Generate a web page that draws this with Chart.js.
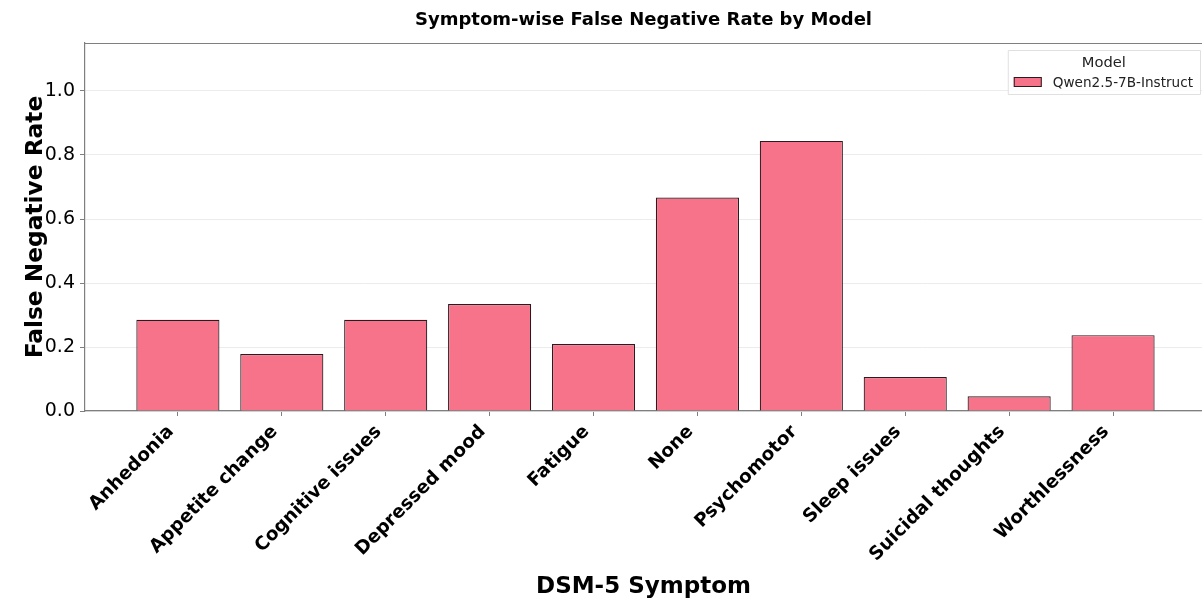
<!DOCTYPE html>
<html>
<head>
<meta charset="utf-8">
<script src="https://cdn.jsdelivr.net/npm/chart.js@4/dist/chart.umd.min.js"></script>
<style>
  html, body { margin: 0; padding: 0; background: #fff; }
  #wrap { width: 1202px; height: 599px; position: relative; }
</style>
</head>
<body>
<div id="wrap"><canvas id="chart"></canvas></div>
<script>
// Symptom-wise FNR, one model
const symptoms = ['Anhedonia', 'Appetite change', 'Cognitive issues', 'Depressed mood', 'Fatigue',
    'None', 'Psychomotor', 'Sleep issues', 'Suicidal thoughts', 'Worthlessness'];
const fnrQwen = [0.285, 0.178, 0.285, 0.334, 0.209, 0.667, 0.844, 0.106, 0.046, 0.237];
const modelName = 'Qwen2.5-7B-Instruct';
const yTicks = [0, 0.2, 0.4, 0.6, 0.8, 1.0];

const FONT = 'DejaVu Sans';
const AXIS_GREY = '#7f7f7f';

// draws the top spine and the matplotlib-style legend box
const extras = {
    id: 'extras',
    afterDraw(chart) {
        const { ctx, chartArea } = chart;
        ctx.save();
        ctx.strokeStyle = AXIS_GREY;
        ctx.lineWidth = 1.2;
        ctx.beginPath();
        ctx.moveTo(chartArea.left, chartArea.top + 0.5);
        ctx.lineTo(chartArea.right, chartArea.top + 0.5);
        ctx.stroke();

        const ds = chart.data.datasets[0];
        ctx.font = '13.6px "' + FONT + '"';
        const tw = ctx.measureText(ds.label).width;
        const w = 6 + 28 + 11 + tw + 7;
        const x0 = chartArea.right - 2 - w, y0 = chartArea.top + 7, h = 44;
        ctx.fillStyle = 'rgba(255,255,255,0.85)';
        ctx.strokeStyle = '#e0e0e0';
        ctx.lineWidth = 1;
        ctx.beginPath();
        ctx.rect(x0 + 0.5, y0 + 0.5, w, h);
        ctx.fill();
        ctx.stroke();

        ctx.fillStyle = '#222';
        ctx.font = '14.7px "' + FONT + '"';
        ctx.textAlign = 'center';
        ctx.textBaseline = 'middle';
        ctx.fillText('Model', x0 + w / 2, y0 + 13);

        ctx.fillStyle = ds.backgroundColor;
        ctx.strokeStyle = ds.borderColor;
        ctx.fillRect(x0 + 6, y0 + 27, 28, 10);
        ctx.strokeRect(x0 + 6.5, y0 + 27.5, 27, 9);

        ctx.fillStyle = '#222';
        ctx.font = '13.6px "' + FONT + '"';
        ctx.textAlign = 'left';
        ctx.fillText(ds.label, x0 + 45, y0 + 33);
        ctx.restore();
    }
};

new Chart(document.getElementById('chart'), {
    type: 'bar',
    data: {
        datasets: [{
            label: modelName,
            data: fnrQwen.map((v, i) => ({ x: i, y: v })),
            backgroundColor: '#f7738a',
            borderColor: '#2b1b20',
            borderWidth: 1.2,
            barPercentage: 0.8,
            categoryPercentage: 1.0
        }]
    },
    options: {
        responsive: true,
        maintainAspectRatio: false,
        animation: false,
        layout: { padding: { left: 0, right: 0, top: 0, bottom: 0 } },
        plugins: {
            legend: { display: false },
            tooltip: { enabled: false },
            title: {
                display: true,
                fullSize: false,
                text: 'Symptom-wise False Negative Rate by Model',
                color: '#000',
                font: { family: FONT, size: 18, weight: 'bold' },
                padding: { top: 10, bottom: 11.4 }
            }
        },
        scales: {
            x: {
                type: 'linear',
                min: -0.894,
                max: 9.856,
                offset: false,
                afterBuildTicks: s => { s.ticks = symptoms.map((_, i) => ({ value: i })); },
                afterFit: s => { s.height = 188; },
                ticks: {
                    autoSkip: false,
                    includeBounds: false,
                    minRotation: 45,
                    maxRotation: 45,
                    padding: 5,
                    labelOffset: -7,
                    color: '#000',
                    font: { family: FONT, size: 18.5, weight: 'bold' },
                    callback: v => symptoms[v]
                },
                grid: { offset: false, drawOnChartArea: false, drawTicks: true, tickLength: 5, tickColor: AXIS_GREY },
                border: { color: AXIS_GREY, width: 1.2 },
                title: {
                    display: true,
                    text: 'DSM-5 Symptom',
                    color: '#000',
                    font: { family: FONT, size: 23, weight: 'bold' },
                    padding: { top: 0, bottom: -2 }
                }
            },
            y: {
                min: 0,
                max: 1.15,
                afterBuildTicks: s => { s.ticks = yTicks.map(v => ({ value: v })); },
                afterFit: s => { s.width = 85; },
                ticks: {
                    includeBounds: false,
                    padding: 5,
                    color: '#000',
                    font: { family: FONT, size: 19 },
                    callback: v => v.toFixed(1)
                },
                grid: { color: '#ececec', lineWidth: 1, drawTicks: true, tickLength: 5, tickColor: AXIS_GREY },
                border: { color: AXIS_GREY, width: 1.2 },
                title: {
                    display: true,
                    text: 'False Negative Rate',
                    color: '#000',
                    font: { family: FONT, size: 23.3, weight: 'bold' },
                    padding: { top: 22, bottom: 0 }
                }
            }
        }
    },
    plugins: [extras]
});
</script>
</body>
</html>
